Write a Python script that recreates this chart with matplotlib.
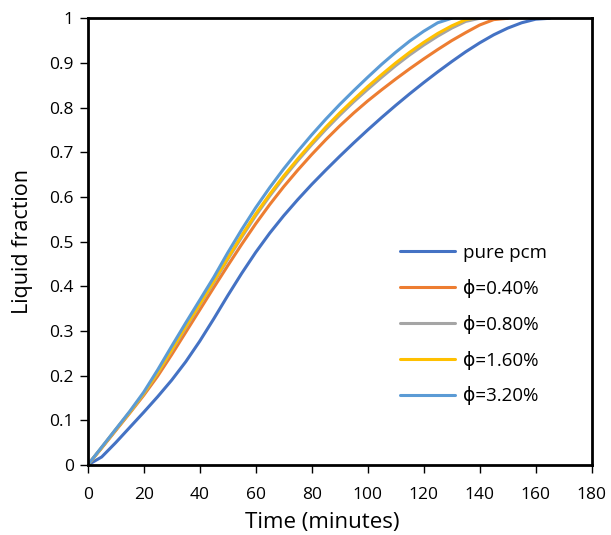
import matplotlib
matplotlib.use("Agg")
import matplotlib.pyplot as plt

plt.rcParams['font.family'] = ['Open Sans', 'DejaVu Sans']

t_pure = [0, 5, 10, 15, 20, 25, 30, 35, 40, 45, 50, 55, 60, 65, 70, 75, 80, 85, 90, 95, 100,
          105, 110, 115, 120, 125, 130, 135, 140, 145, 150, 155, 160, 165]
f_pure = [0, 0.018, 0.05, 0.084, 0.118, 0.153, 0.19, 0.231, 0.277, 0.327, 0.379, 0.429, 0.476,
          0.519, 0.558, 0.594, 0.628, 0.66, 0.691, 0.721, 0.75, 0.778, 0.805, 0.831, 0.856,
          0.88, 0.903, 0.925, 0.945, 0.963, 0.978, 0.99, 0.998, 1.0]

t_040 = [0, 5, 10, 15, 20, 25, 30, 35, 40, 45, 50, 55, 60, 65, 70, 75, 80, 85, 90, 95, 100,
         105, 110, 115, 120, 125, 130, 135, 140, 145, 150]
f_040 = [0, 0.038, 0.077, 0.116, 0.156, 0.199, 0.247, 0.297, 0.347, 0.397, 0.446, 0.494, 0.54,
         0.583, 0.623, 0.66, 0.695, 0.728, 0.759, 0.788, 0.815, 0.84, 0.864, 0.887, 0.909,
         0.93, 0.95, 0.968, 0.985, 0.997, 1.0]

t_080 = [0, 5, 10, 15, 20, 25, 30, 35, 40, 45, 50, 55, 60, 65, 70, 75, 80, 85, 90, 95, 100,
         105, 110, 115, 120, 125, 130, 135, 140]
f_080 = [0, 0.039, 0.079, 0.118, 0.159, 0.206, 0.256, 0.307, 0.358, 0.408, 0.46, 0.51, 0.558,
         0.602, 0.643, 0.681, 0.717, 0.751, 0.783, 0.813, 0.841, 0.868, 0.894, 0.918, 0.94,
         0.96, 0.978, 0.993, 1.0]

t_160 = [0, 5, 10, 15, 20, 25, 30, 35, 40, 45, 50, 55, 60, 65, 70, 75, 80, 85, 90, 95, 100,
         105, 110, 115, 120, 125, 130, 135, 138]
f_160 = [0, 0.039, 0.079, 0.118, 0.16, 0.207, 0.258, 0.31, 0.36, 0.411, 0.463, 0.514, 0.562,
         0.606, 0.647, 0.685, 0.721, 0.756, 0.788, 0.818, 0.847, 0.874, 0.9, 0.924, 0.946,
         0.966, 0.983, 0.997, 1.0]

t_320 = [0, 5, 10, 15, 20, 25, 30, 35, 40, 45, 50, 55, 60, 65, 70, 75, 80, 85, 90, 95, 100,
         105, 110, 115, 120, 125, 130]
f_320 = [0, 0.04, 0.08, 0.12, 0.163, 0.213, 0.266, 0.318, 0.369, 0.42, 0.475, 0.527, 0.576,
         0.621, 0.663, 0.702, 0.739, 0.774, 0.807, 0.838, 0.868, 0.897, 0.924, 0.949, 0.971,
         0.99, 1.0]

labels = ['pure pcm', 'ϕ=0.40%', 'ϕ=0.80%', 'ϕ=1.60%', 'ϕ=3.20%']
colors = ['#4472C4', '#ED7D31', '#A5A5A5', '#FFC000', '#5B9BD5']
series = [(t_pure, f_pure), (t_040, f_040), (t_080, f_080), (t_160, f_160), (t_320, f_320)]

x_ticks = list(range(0, 181, 20))
y_ticks = [0, 0.1, 0.2, 0.3, 0.4, 0.5, 0.6, 0.7, 0.8, 0.9, 1]
y_ticklabels = ['0', '0.1', '0.2', '0.3', '0.4', '0.5', '0.6', '0.7', '0.8', '0.9', '1']

fig = plt.figure(figsize=(6.11, 5.35), dpi=100)
ax = fig.add_axes([0.1435, 0.1308, 0.8249, 0.835])

for (t, f), lab, c in zip(series, labels, colors):
    ax.plot(t, f, color=c, lw=2.2, label=lab, solid_capstyle='round', solid_joinstyle='round')

ax.set_xlim(0, 180)
ax.set_ylim(0, 1)
ax.set_xticks(x_ticks)
ax.set_yticks(y_ticks)
ax.set_yticklabels(y_ticklabels)
ax.tick_params(direction='out', length=6, width=1, labelsize=12.5, colors='#000000')
ax.tick_params(axis='x', pad=10)
ax.tick_params(axis='y', pad=4)
for s in ax.spines.values():
    s.set_linewidth(2)
    s.set_color('black')

ax.set_xlabel('Time (minutes)', fontsize=16, labelpad=2)
ax.xaxis.set_label_coords(0.465, -0.105)
ax.set_ylabel('Liquid fraction', fontsize=15.5, labelpad=12)

leg = ax.legend(loc='upper left', bbox_to_anchor=(0.62, 0.495), frameon=False,
                borderpad=0, borderaxespad=0,
                fontsize=13.5, handlelength=2.95, handletextpad=0.4, labelspacing=0.9)

fig.savefig('out.png', dpi=100)
